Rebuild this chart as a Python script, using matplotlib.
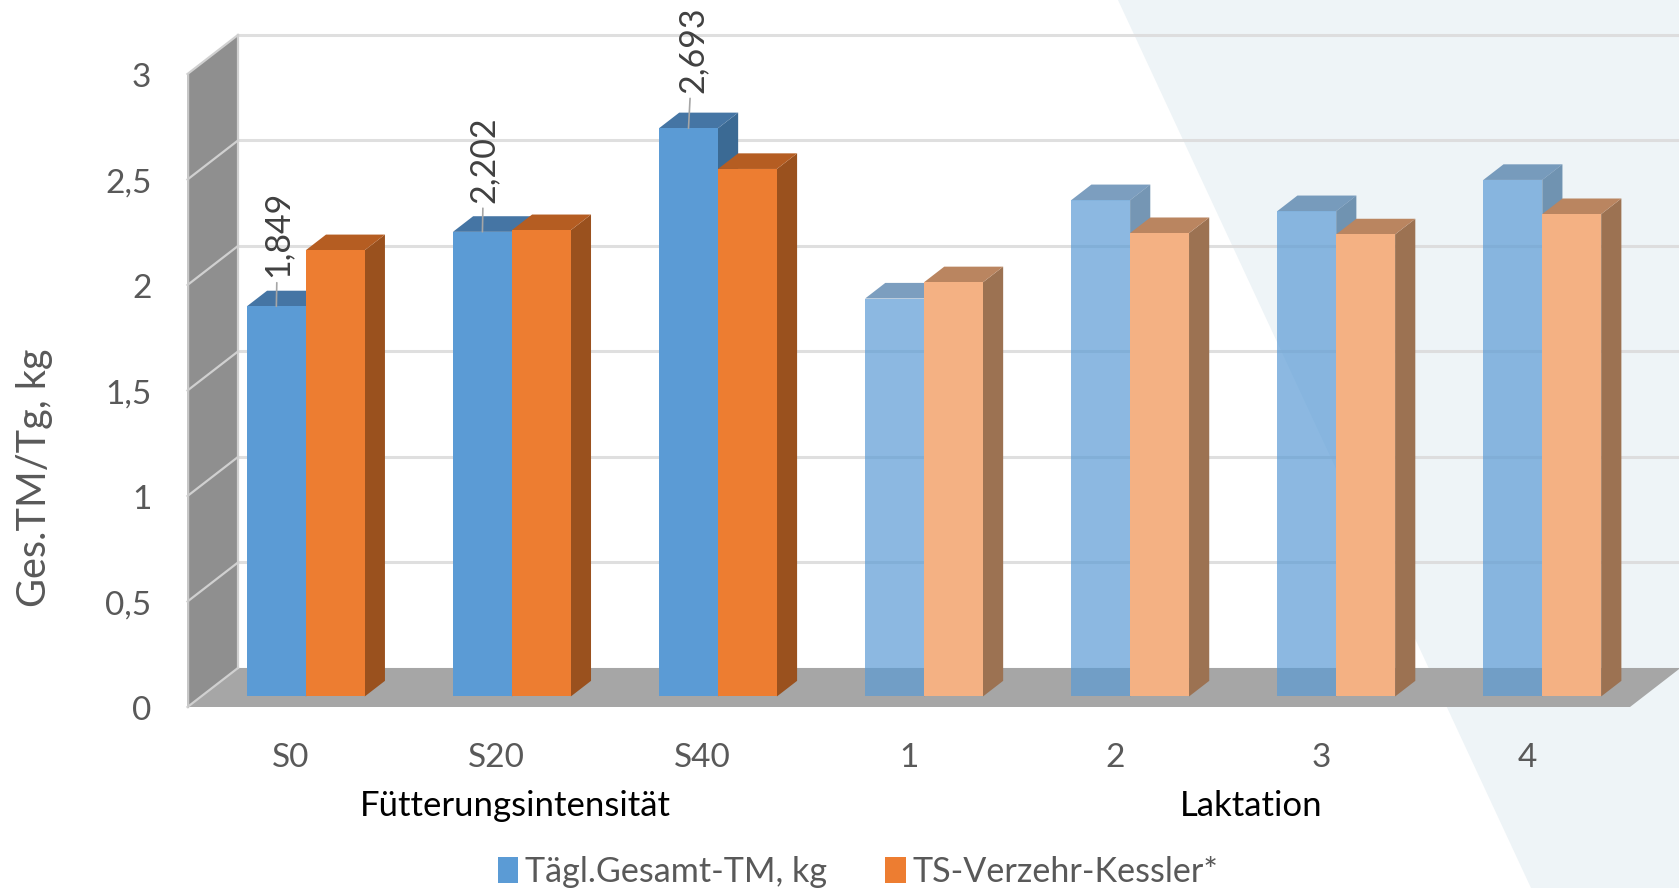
import matplotlib
matplotlib.use("Agg")
import matplotlib.pyplot as plt
from matplotlib.colors import to_rgba
from matplotlib.patches import Patch, Polygon
from matplotlib.transforms import ScaledTranslation

plt.rcParams['font.family'] = ['Lato', 'DejaVu Sans']

# Data
categories = ['S0', 'S20', 'S40', '1', '2', '3', '4']
daily_dm = [1.849, 2.202, 2.693, 1.886, 2.352, 2.30, 2.448]
kessler = [2.115, 2.21, 2.50, 1.963, 2.196, 2.19, 2.286]
y_ticks = [0, 0.5, 1, 1.5, 2, 2.5, 3]
y_tick_labels = ['0', '0,5', '1', '1,5', '2', '2,5', '3']
labelled = {0: '1,849', 1: '2,202', 2: '2,693'}
series_names = ['Tägl.Gesamt-TM, kg', 'TS-Verzehr-Kessler*']
group_names = ['Fütterungsintensität', 'Laktation']

# Oblique projection of the depth axis, in data units per unit of depth
DX = 0.245
DY = 0.185
BAR_W = 0.286
BAR_SHIFT = 0.008
Z_FRONT = 0.27
Z_BACK = 0.67
N_SOLID = 3  # the first three groups are opaque, the rest are faded

BLUE = '#5B9BD5'
BLUE_TOP = '#4575A4'
BLUE_SIDE = '#3B6A94'
ORANGE = '#ED7D31'
ORANGE_TOP = '#B55D22'
ORANGE_SIDE = '#9A511E'
ORANGE_FADED = '#F4B183'
ORANGE_TOP_FADED = '#BA8560'
ORANGE_SIDE_FADED = '#9C7252'
BLUE_ALPHA = 0.7
GRID = '#DADADA'
TEXT = '#595959'

W, H = 1679, 888
fig = plt.figure(figsize=(W / 100, H / 100), dpi=100, facecolor='white')

# Pale slanted panel behind the chart
fig.add_artist(Polygon([(1118 / W, 1), (1, 1), (1, 0), (1531 / W, 0)], closed=True,
                       transform=fig.transFigure, facecolor='#EEF4F7', edgecolor='none', zorder=-1))

ax = fig.add_axes([187.5 / W, (H - 707) / H, 1442.5 / W, 633 / H])
ax.patch.set_visible(False)
ax.set_xlim(-0.5, 6.5)
ax.set_ylim(0, 3)
for s in ax.spines.values():
    s.set_visible(False)


def proj(x, y, z):
    return (x + z * DX, y + z * DY)


def face(pts, color, alpha=1.0, zorder=2):
    ax.add_patch(Polygon([proj(*p) for p in pts], closed=True, facecolor=color, edgecolor='none',
                         alpha=alpha, clip_on=False, zorder=zorder))


def draw_box(x0, value, front, top, side, alpha, zorder):
    x1 = x0 + BAR_W
    face([(x1, 0, Z_FRONT), (x1, 0, Z_BACK), (x1, value, Z_BACK), (x1, value, Z_FRONT)], side, alpha, zorder)
    face([(x0, value, Z_FRONT), (x1, value, Z_FRONT), (x1, value, Z_BACK), (x0, value, Z_BACK)], top, alpha, zorder)
    px, py = proj(x0, 0, Z_FRONT)
    ax.bar(px, value, BAR_W, bottom=py, align='edge', color=to_rgba(front, alpha), clip_on=False, zorder=zorder)


# Floor and side wall
face([(-0.5, 0, 0), (6.5, 0, 0), (6.5, 0, 1), (-0.5, 0, 1)], '#A6A6A6', zorder=1)
face([(-0.5, 0, 0), (-0.5, 0, 1), (-0.5, 3, 1), (-0.5, 3, 0)], '#8F8F8F', zorder=1)

# Gridlines on the back wall and across the side wall
for t in y_ticks:
    if t > 0:
        xs, ys = zip(proj(-0.5, t, 1), proj(6.5, t, 1))
        ax.plot(xs, ys, color=GRID, lw=2.2, alpha=0.85, clip_on=False, zorder=1.5)
    xs, ys = zip(proj(-0.5, t, 0), proj(-0.5, t, 1))
    ax.plot(xs, ys, color='#D0D0D0', lw=1.6, clip_on=False, zorder=1.5)
xs, ys = zip(proj(-0.5, 0, 1), proj(-0.5, 3, 1))
ax.plot(xs, ys, color='#D0D0D0', lw=1.6, clip_on=False, zorder=1.5)
xs, ys = zip(proj(-0.5, 0, 0), proj(-0.5, 3, 0))
ax.plot(xs, ys, color='#C8C8C8', lw=1.0, clip_on=False, zorder=1.5)

# Bars, painted group by group so the orange box overlaps the blue one
for i in range(len(categories)):
    solid = i < N_SOLID
    z = 3 + i * 0.1
    x = i + BAR_SHIFT
    draw_box(x - BAR_W, daily_dm[i], BLUE, BLUE_TOP, BLUE_SIDE, 1.0 if solid else BLUE_ALPHA, z)
    draw_box(x, kessler[i], ORANGE if solid else ORANGE_FADED, ORANGE_TOP if solid else ORANGE_TOP_FADED,
             ORANGE_SIDE if solid else ORANGE_SIDE_FADED, 1.0, z + 0.05)

# Value labels with leader lines
for i, text in labelled.items():
    px, py = proj(i + BAR_SHIFT - BAR_W / 2, daily_dm[i], Z_FRONT)
    gap = 25.5 if i == 2 else 21
    shift = 3 if i == 2 else 1
    ax.annotate(text, xy=(px, py), xytext=(shift, gap), textcoords='offset points', rotation=90,
                ha='center', va='bottom', fontsize=24.5, color='#404040', zorder=6, annotation_clip=False,
                arrowprops=dict(arrowstyle='-', color='#A6A6A6', lw=1.2, shrinkA=2, shrinkB=0))

# Axes text
ax.set_yticks(y_ticks)
ax.set_yticklabels(y_tick_labels)
ax.set_xticks(range(len(categories)))
ax.set_xticklabels(categories)
ax.tick_params(axis='y', length=0, pad=26, labelsize=24, labelcolor=TEXT)
ax.tick_params(axis='x', length=0, pad=26, labelsize=24, labelcolor=TEXT)
nudge = ScaledTranslation(0, -1 / 72, fig.dpi_scale_trans)
for lbl in ax.get_yticklabels():
    lbl.set_transform(lbl.get_transform() + nudge)
ax.set_ylabel('Ges.TM/Tg, kg', fontsize=28.5, color=TEXT)
ax.yaxis.set_label_coords(-0.0935, 0.362)

ax.text(1.09, -0.47, group_names[0], ha='center', va='center', fontsize=25, color='black')
ax.text(4.66, -0.47, group_names[1], ha='center', va='center', fontsize=25, color='black')

handles = [Patch(facecolor=BLUE, label=series_names[0]), Patch(facecolor=ORANGE, label=series_names[1])]
fig.legend(handles=handles, loc='lower center', bbox_to_anchor=(0.511, -0.027), ncol=2, frameon=False, fontsize=24.6,
           labelcolor=TEXT, handlelength=0.6, handleheight=0.8, handletextpad=0.2, columnspacing=1.7,
           borderpad=0.2)

fig.savefig('out.png', dpi=100)
